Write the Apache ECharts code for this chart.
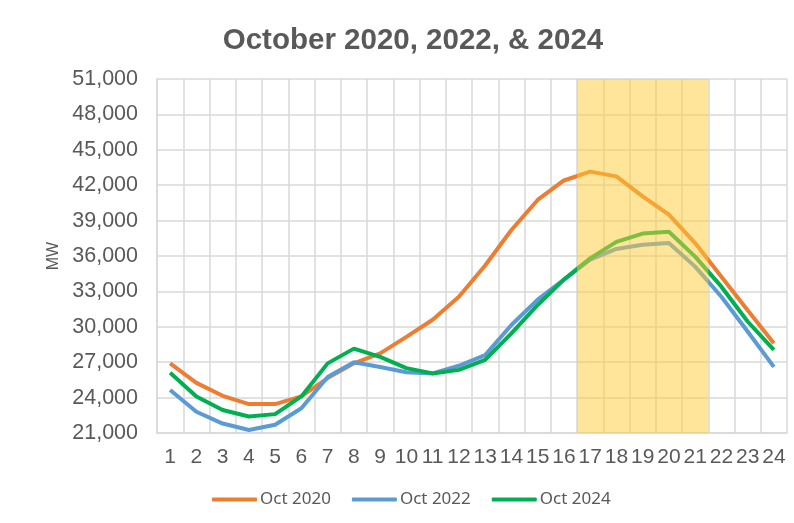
<!DOCTYPE html>
<html>
<head>
<meta charset="utf-8">
<script src="https://cdn.jsdelivr.net/npm/echarts@6/dist/echarts.min.js"></script>
<style>
  html, body { margin: 0; padding: 0; background: #fff; }
  #chart { width: 794px; height: 523px; }
</style>
</head>
<body>
<div id="chart"></div>
<script>
const hours = ["1", "2", "3", "4", "5", "6", "7", "8", "9", "10", "11", "12",
  "13", "14", "15", "16", "17", "18", "19", "20", "21", "22", "23", "24"];

const oct2020 = [26900, 25250, 24150, 23450, 23450, 24100, 25650, 26900, 27750, 29150, 30600, 32550,
  35200, 38200, 40750, 42400, 43150, 42750, 41050, 39500, 37100, 34250, 31400, 28600];
const oct2022 = [24650, 22800, 21800, 21250, 21700, 23100, 25750, 27000, 26600, 26150, 26050, 26700,
  27600, 30150, 32300, 34000, 35700, 36600, 36950, 37100, 35100, 32550, 29600, 26600];
const oct2024 = [26100, 24100, 22950, 22400, 22600, 24100, 26900, 28150, 27450, 26500, 26050, 26350,
  27200, 29450, 31850, 34000, 35800, 37200, 37900, 38050, 35950, 33400, 30450, 28050];

// peak window shading (hours 17-21, whole cells)
const peakStart = 17;
const peakEnd = 21;

const yMin = 21000, yMax = 51000, yStep = 3000;

const chart = echarts.init(document.getElementById("chart"));

const lineSeries = (name, data, color) => ({
  name: name,
  type: "line",
  data: data,
  symbol: "none",
  z: 2,
  lineStyle: { width: 4, color: color },
  itemStyle: { color: color },
});

chart.setOption({
  animation: false,
  title: {
    text: "October 2020, 2022, & 2024",
    left: 408,
    textAlign: "center",
    top: 21,
    textStyle: {
      fontFamily: "Liberation Sans",
      fontSize: 29.5,
      fontWeight: "bold",
      color: "#595959",
    },
  },
  legend: {
    bottom: 10,
    left: 207,
    itemWidth: 45,
    itemHeight: 4,
    itemGap: 21,
    icon: "roundRect",
    textStyle: { fontFamily: "Noto Sans", fontSize: 17, color: "#595959", padding: [0, 0, 0, -2] },
    data: ["Oct 2020", "Oct 2022", "Oct 2024"],
  },
  grid: { left: 157, right: 7, top: 79, bottom: 90 },
  xAxis: [
    {
      type: "category",
      data: hours,
      boundaryGap: true,
      axisLine: { lineStyle: { color: "#D9D9D9", width: 1.5 } },
      axisTick: { show: false },
      axisLabel: { fontFamily: "Liberation Sans", fontSize: 21, color: "#595959", margin: 14, interval: 0 },
      splitLine: { show: true, lineStyle: { color: "#D9D9D9", width: 1.5 } },
    },
    {
      // hidden helper axis so the band covers whole hour cells
      type: "value",
      show: false,
      min: 0.5,
      max: hours.length + 0.5,
    },
  ],
  yAxis: {
    type: "value",
    name: "MW",
    nameLocation: "middle",
    nameRotate: 90,
    nameGap: 92,
    nameTextStyle: { fontFamily: "Liberation Sans", fontSize: 16, color: "#595959" },
    min: yMin,
    max: yMax,
    interval: yStep,
    axisLine: { show: true, lineStyle: { color: "#D9D9D9", width: 1.5 } },
    axisTick: { show: false },
    axisLabel: {
      fontFamily: "Liberation Sans",
      fontSize: 21.5,
      color: "#595959",
      margin: 19,
      formatter: (v) => v.toLocaleString("en-US"),
    },
    splitLine: { lineStyle: { color: "#D9D9D9", width: 1.5 } },
  },
  series: [
    lineSeries("Oct 2020", oct2020, "#ED7D31"),
    lineSeries("Oct 2022", oct2022, "#5B9BD5"),
    lineSeries("Oct 2024", oct2024, "#00B050"),
    {
      name: "peak",
      type: "line",
      xAxisIndex: 1,
      data: [],
      z: 10,
      markArea: {
        z: 10,
        silent: true,
        itemStyle: { color: "rgba(255, 204, 51, 0.5)" },
        data: [[{ xAxis: peakStart - 0.5 }, { xAxis: peakEnd + 0.5 }]],
      },
    },
  ],
});

window.addEventListener("resize", () => {
  chart.resize();
});
</script>
</body>
</html>
